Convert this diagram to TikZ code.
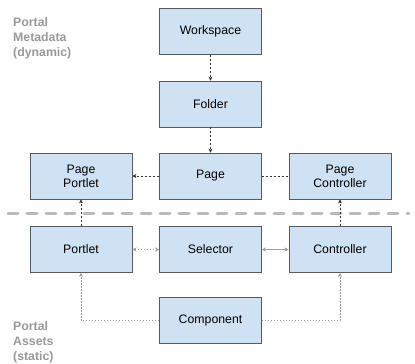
\documentclass[tikz,border=0pt]{standalone}
\usepackage{fontspec}
\setmainfont{Liberation Sans}
\usetikzlibrary{arrows.meta}
\definecolor{boxfill}{HTML}{CFE2F3}
\definecolor{boxline}{HTML}{595959}
\definecolor{labelgray}{HTML}{999999}
\definecolor{linegray}{HTML}{9E9E9E}
\begin{document}
\begin{tikzpicture}[x=1pt,y=-1pt,font=\fontsize{12.3}{14}\selectfont,
	tip/.tip={Stealth[length=4pt,width=4pt]},
	box/.style={draw=boxline,line width=0.9pt,fill=boxfill,minimum width=102pt,minimum height=46pt,align=center,inner sep=1pt},
	link/.style={-tip,line width=0.7pt,draw=black!80,dash pattern=on 2pt off 2pt},
	asset/.style={line width=0.9pt,draw=linegray,dash pattern=on 1.5pt off 1.5pt},
	tag/.style={text=labelgray,font=\fontsize{12.3}{15}\selectfont\bfseries,align=left,anchor=north west,inner sep=0pt}]
	\useasboundingbox (0,0) rectangle (415,364);
	\node[tag] (T1) at (13,17) {Portal\\Metadata\\(dynamic)};
	\node[tag] (T2) at (13,321) {Portal\\Assets\\(static)};
	\node[box] (W) at (210.5,31.5) {Workspace};
	\node[box] (F) at (210.5,104) {Folder};
	\node[box] (PP) at (81,176) {Page\\Portlet};
	\node[box] (P) at (210.5,176) {Page};
	\node[box] (PC) at (340,176) {Page\\Controller};
	\node[box] (Pt) at (81,249.5) {Portlet};
	\node[box] (S) at (210.5,249.5) {Selector};
	\node[box] (C) at (340,249.5) {Controller};
	\node[box] (Cp) at (210.5,320.5) {Component};
	\draw[line width=3pt,draw=black!27,line cap=round,dash pattern=on 10pt off 9pt] (8,213) -- (409,213);
	\draw[link] (W) -- (F);
	\draw[link] (F) -- (P);
	\draw[link] (P) -- (PP);
	\draw[link,-] (P) -- (PC);
	\draw[link] (Pt) -- (PP);
	\draw[link] (C) -- (PC);
	\draw[asset,tip-tip] (Pt) -- (S);
	\draw[line width=0.9pt,draw=linegray,{Stealth[length=4pt,width=4pt,fill=black]}-{Stealth[length=4pt,width=4pt,fill=black]}] (S) -- (C);
	\draw[asset,-tip] (Cp.west) -| (Pt.south);
	\draw[asset,-tip] (Cp.east) -| (C.south);
\end{tikzpicture}
\end{document}
